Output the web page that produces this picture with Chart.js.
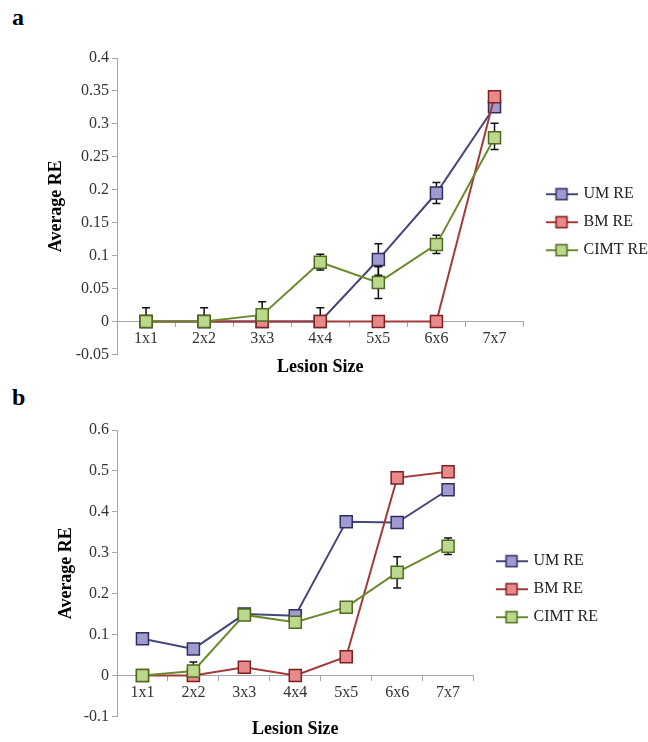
<!DOCTYPE html>
<html>
<head>
<meta charset="utf-8">
<script src="https://cdn.jsdelivr.net/npm/chart.js@4/dist/chart.umd.min.js"></script>
<style>
  html, body { margin: 0; padding: 0; background: #fff; overflow: hidden; }
  body { width: 648px; height: 742px; position: relative; font-family: "Liberation Serif", serif; }
  .panel { position: absolute; left: 0; width: 648px; }
  .letter { position: absolute; left: 12px; font: bold 24px/24px "Liberation Serif", serif; color: #000; }
</style>
</head>
<body>
<div class="letter" style="top:5px">a</div>
<div class="panel" style="top:0; height:380px"><canvas id="chartA"></canvas></div>
<div class="letter" style="top:385px">b</div>
<div class="panel" style="top:380px; height:362px"><canvas id="chartB"></canvas></div>

<script>
// --- data ---
const lesionSizes = ['1x1', '2x2', '3x3', '4x4', '5x5', '6x6', '7x7'];
const seriesNames = ['UM RE', 'BM RE', 'CIMT RE'];

// panel a
const umA   = [0, 0, 0, 0, 0.094, 0.195, 0.326];
const bmA   = [0, 0, 0, 0, 0, 0, 0.341];
const cimtA = [0, 0, 0.01, 0.09, 0.059, 0.117, 0.279];
const umAErrUp   = [0, 0, 0, 0.021, 0.024, 0.016, 0];
const umAErrDown = [0, 0, 0, 0, 0.024, 0.016, 0];
const cimtAErrUp   = [0.021, 0.021, 0.02, 0.012, 0.024, 0.014, 0.022];
const cimtAErrDown = [0, 0, 0, 0.012, 0.024, 0.014, 0.018];

// panel b
const umB   = [0.09, 0.065, 0.15, 0.146, 0.376, 0.374, 0.454];
const bmB   = [0, 0, 0.02, 0, 0.046, 0.483, 0.498];
const cimtB = [0, 0.011, 0.148, 0.13, 0.167, 0.252, 0.316];
const cimtBErrUp   = [0, 0.022, 0, 0, 0, 0.038, 0.02];
const cimtBErrDown = [0, 0, 0, 0, 0, 0.038, 0.02];

// --- styling ---
const colors = [
    { line: '#46467a', fill: '#9f9ad0', border: '#2f2f5e' },
    { line: '#a33a3a', fill: '#e8898b', border: '#7d2020' },
    { line: '#6b8a2e', fill: '#bcd88c', border: '#4d6a1e' }
];
const SERIF = '"Liberation Serif", "Times New Roman", serif';

// little "line + square" swatch for the legend
function legendMark(c) {
    const cv = document.createElement('canvas');
    cv.width = 32; cv.height = 14;
    const g = cv.getContext('2d');
    g.strokeStyle = c.line; g.lineWidth = 2;
    g.beginPath(); g.moveTo(0, 7); g.lineTo(32, 7); g.stroke();
    g.fillStyle = c.fill; g.fillRect(10.5, 1.5, 11, 11);
    g.strokeStyle = c.border; g.lineWidth = 1.5; g.strokeRect(10.5, 1.5, 11, 11);
    return cv;
}
const marks = colors.map(legendMark);

// error bars, drawn just before each dataset so the markers sit on top
const errorBars = {
    id: 'errorBars',
    beforeDatasetDraw(chart, args) {
        const ds = chart.data.datasets[args.index];
        if (!ds.errUp) return;
        const y = chart.scales.y, ctx = chart.ctx;
        ctx.save();
        ctx.strokeStyle = '#111';
        ctx.lineWidth = 1.5;
        args.meta.data.forEach((pt, i) => {
            const v = ds.data[i];
            [[ds.errUp[i], 1], [ds.errDown[i], -1]].forEach(([e, dir]) => {
                if (!e) return;
                const y0 = y.getPixelForValue(v), y1 = y.getPixelForValue(v + dir * e);
                ctx.beginPath();
                ctx.moveTo(pt.x, y0); ctx.lineTo(pt.x, y1);
                ctx.moveTo(pt.x - 4, y1); ctx.lineTo(pt.x + 4, y1);
                ctx.stroke();
            });
        });
        ctx.restore();
    }
};

// nudge the legend box to where the figure has it
const legendShift = {
    id: 'legendShift',
    afterLayout(chart) {
        const lg = chart.legend;
        if (!lg) return;
        lg.left += 12; lg.right += 12;
        lg.top += 16; lg.bottom += 16;
    }
};

function makeDataset(i, values, errUp, errDown) {
    const c = colors[i];
    return {
        label: seriesNames[i],
        data: values,
        errUp: errUp,
        errDown: errDown,
        order: 3 - i,
        borderColor: c.line,
        borderWidth: 2,
        backgroundColor: c.fill,
        pointStyle: 'rect',
        pointRadius: 8.5,
        pointHoverRadius: 8.5,
        pointBackgroundColor: c.fill,
        pointBorderColor: c.border,
        pointBorderWidth: 1.5,
        tension: 0
    };
}

function buildChart(id, datasets, yRange, pad) {
    const ctx = document.getElementById(id).getContext('2d');
    return new Chart(ctx, {
        type: 'line',
        data: { labels: lesionSizes, datasets: datasets },
        options: {
            responsive: true,
            maintainAspectRatio: false,
            animation: false,
            events: [],
            layout: { padding: { top: pad.top, left: pad.left, right: pad.right, bottom: 0 } },
            scales: {
                x: {
                    type: 'category',
                    offset: true,
                    position: { y: 0 },
                    afterFit: (s) => { s.height = 0; },
                    grid: { offset: true, drawOnChartArea: false, drawTicks: true, tickLength: 5, color: '#a6a6a6' },
                    border: { color: '#a6a6a6', width: 1 },
                    ticks: { color: '#333', font: { family: SERIF, size: 16 }, padding: 3, maxRotation: 0 }
                },
                y: {
                    min: yRange.min,
                    max: yRange.max,
                    afterFit: (s) => { s.width = 117 - pad.left; },
                    grid: { drawOnChartArea: false, drawTicks: true, tickLength: 5, color: '#a6a6a6' },
                    border: { color: '#a6a6a6', width: 1 },
                    ticks: {
                        stepSize: yRange.step,
                        color: '#333',
                        font: { family: SERIF, size: 16 },
                        padding: 3,
                        callback: (v) => String(+Number(v).toFixed(2))
                    },
                    title: {
                        display: true,
                        text: 'Average RE',
                        color: '#000',
                        font: { family: SERIF, size: 18, weight: 'bold' },
                        padding: { top: 4, bottom: 4 }
                    }
                }
            },
            plugins: {
                tooltip: { enabled: false },
                title: {
                    display: true,
                    position: 'bottom',
                    fullSize: false,
                    text: 'Lesion Size',
                    color: '#000',
                    font: { family: SERIF, size: 18, weight: 'bold' },
                    padding: { top: 2, bottom: 2 }
                },
                legend: {
                    position: 'right',
                    align: 'center',
                    fullSize: false,
                    labels: {
                        usePointStyle: true,
                        pointStyleWidth: 28,
                        padding: 12,
                        color: '#222',
                        font: { family: SERIF, size: 16 },
                        generateLabels(chart) {
                            const items = Chart.defaults.plugins.legend.labels.generateLabels(chart);
                            items.forEach(it => { it.pointStyle = marks[it.datasetIndex]; });
                            return items.sort((p, q) => p.datasetIndex - q.datasetIndex);
                        }
                    }
                }
            }
        },
        plugins: [errorBars, legendShift]
    });
}

buildChart('chartA', [
    makeDataset(0, umA, umAErrUp, umAErrDown),
    makeDataset(1, bmA, null, null),
    makeDataset(2, cimtA, cimtAErrUp, cimtAErrDown)
], { min: -0.05, max: 0.4, step: 0.05 }, { top: 58, left: 42, right: 2 });

buildChart('chartB', [
    makeDataset(0, umB, null, null),
    makeDataset(1, bmB, null, null),
    makeDataset(2, cimtB, cimtBErrUp, cimtBErrDown)
], { min: -0.1, max: 0.6, step: 0.1 }, { top: 50, left: 52, right: 52 });
</script>
</body>
</html>
